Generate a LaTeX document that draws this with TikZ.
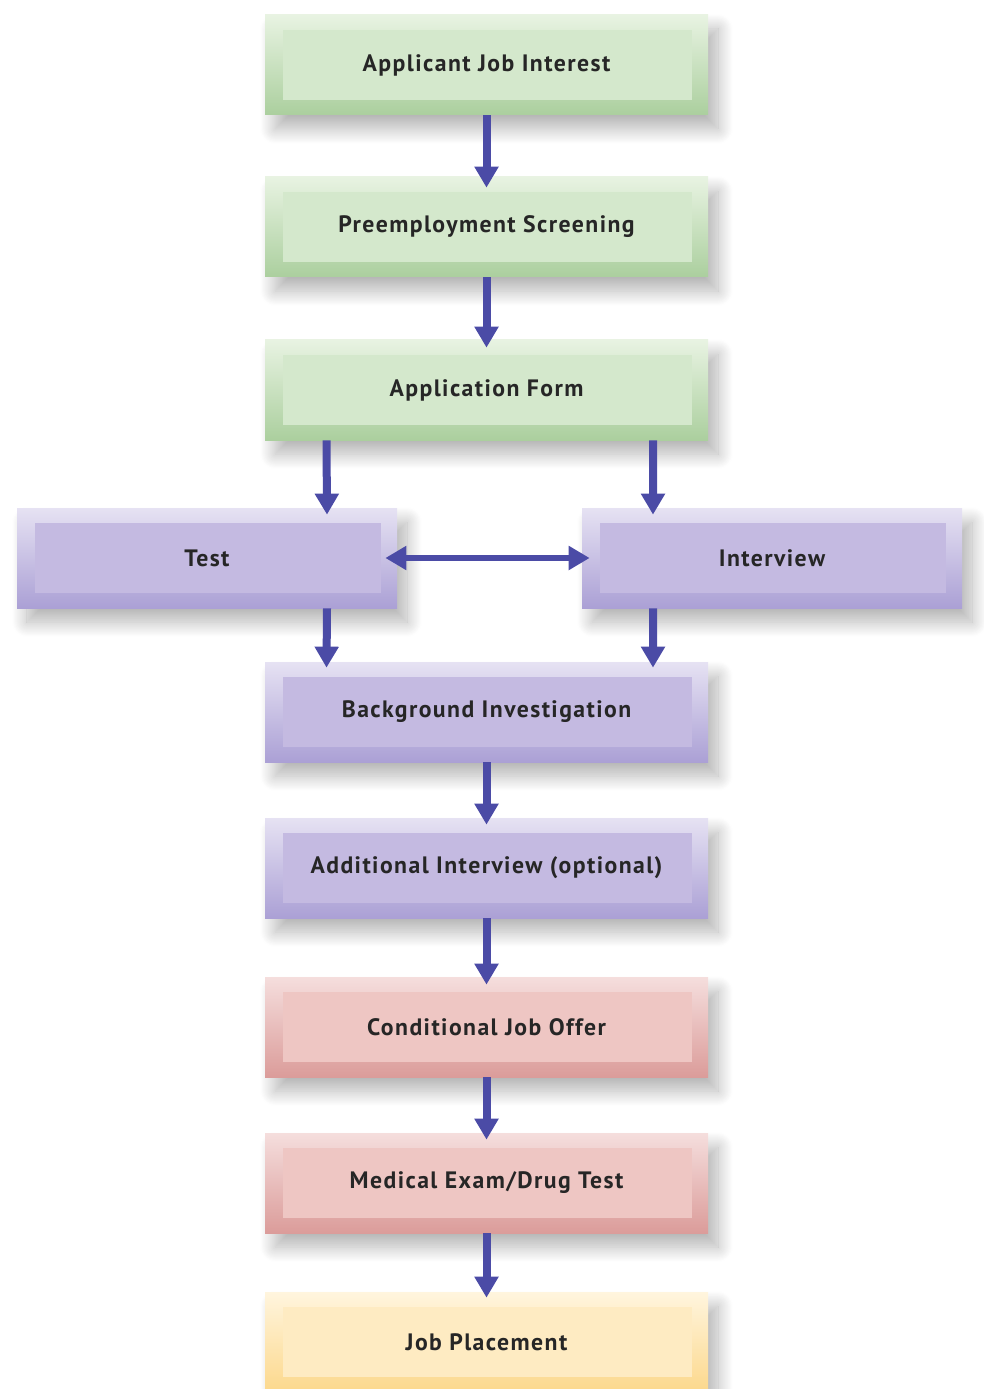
\documentclass[tikz,border=0pt]{standalone}
\usepackage{fontspec}
\setmainfont{PT Sans}[LetterSpace=6]
\usetikzlibrary{arrows.meta,shadows.blur}

\definecolor{greentop}{HTML}{E8F3E2}
\definecolor{greenbot}{HTML}{ABCF9E}
\definecolor{greenin}{HTML}{D4E8CC}
\definecolor{lilactop}{HTML}{E6E2F3}
\definecolor{lilacbot}{HTML}{ABA0D5}
\definecolor{lilacin}{HTML}{C4BAE1}
\definecolor{rosetop}{HTML}{F5DEDD}
\definecolor{rosebot}{HTML}{DB9C9A}
\definecolor{rosein}{HTML}{EEC6C3}
\definecolor{sandtop}{HTML}{FFF5DE}
\definecolor{sandbot}{HTML}{FCD88C}
\definecolor{sandin}{HTML}{FEEBC2}
\definecolor{flowblue}{HTML}{4B4BA6}

\newcommand{\panel}[1]
{   \fill[#1] ([shift={(0.36,0.3)}]path picture bounding box.south west)
      rectangle ([shift={(-0.32,-0.3)}]path picture bounding box.north east);
}

\tikzset{
  stage/.style={minimum width=8.86cm, minimum height=2cm, inner sep=0pt,
    font=\fontsize{13.5}{16}\selectfont\bfseries, text=black!85,
    blur shadow={shadow xshift=0.2cm, shadow yshift=-0.28cm,
      shadow blur radius=0.3cm, shadow blur steps=24, shadow opacity=30}},
  greenstage/.style={stage, top color=greentop, bottom color=greenbot,
    path picture={\panel{greenin}}},
  lilacstage/.style={stage, top color=lilactop, bottom color=lilacbot,
    path picture={\panel{lilacin}}},
  rosestage/.style={stage, top color=rosetop, bottom color=rosebot,
    path picture={\panel{rosein}}},
  sandstage/.style={stage, top color=sandtop, bottom color=sandbot,
    path picture={\panel{sandin}}},
  flow/.style={draw=flowblue, line width=0.16cm,
    -{Triangle[width=0.46cm,length=0.42cm]}},
  twoway/.style={draw=flowblue, line width=0.12cm,
    {Triangle[width=0.46cm,length=0.42cm]}-{Triangle[width=0.46cm,length=0.42cm]}}
}

\begin{document}
\begin{tikzpicture}
  \useasboundingbox (0,0) rectangle (19.66,-27.78);

  % the stages, top to bottom
  \node[greenstage] (interest) at (9.73,-1.30) {Applicant Job Interest};
  \node[greenstage] (screening) at (9.73,-4.54) {Preemployment Screening};
  \node[greenstage] (form) at (9.73,-7.80) {Application Form};
  \node[lilacstage, minimum width=7.6cm] (test) at (4.14,-11.16) {Test};
  \node[lilacstage, minimum width=7.6cm] (interview) at (15.44,-11.16) {Interview};
  \node[lilacstage] (background) at (9.73,-14.24) {Background Investigation};
  \node[lilacstage] (extra) at (9.73,-17.36) {Additional Interview (optional)};
  \node[rosestage] (offer) at (9.73,-20.54) {Conditional Job Offer};
  \node[rosestage] (medical) at (9.73,-23.66) {Medical Exam/Drug Test};
  \node[sandstage] (placement) at (9.73,-26.84) {Job Placement};

  % arrows between the stages
  \draw[flow] (interest.south) -- ([yshift=-0.22cm]screening.north);
  \draw[flow] (screening.south) -- ([yshift=-0.16cm]form.north);
  \draw[flow] ([xshift=-3.2cm]form.south) -- ([xshift=2.4cm,yshift=-0.14cm]test.north);
  \draw[flow] ([xshift=3.33cm]form.south) -- ([xshift=-2.38cm,yshift=-0.14cm]interview.north);
  \draw[twoway] ([xshift=-0.24cm]test.east) -- ([xshift=0.16cm]interview.west);
  \draw[flow] ([xshift=2.4cm]test.south) -- ([xshift=-3.2cm,yshift=-0.12cm]background.north);
  \draw[flow] ([xshift=-2.38cm]interview.south) -- ([xshift=3.33cm,yshift=-0.12cm]background.north);
  \draw[flow] (background.south) -- ([yshift=-0.14cm]extra.north);
  \draw[flow] (extra.south) -- ([yshift=-0.16cm]offer.north);
  \draw[flow] (offer.south) -- ([yshift=-0.14cm]medical.north);
  \draw[flow] (medical.south) -- ([yshift=-0.12cm]placement.north);

\end{tikzpicture}
\end{document}
